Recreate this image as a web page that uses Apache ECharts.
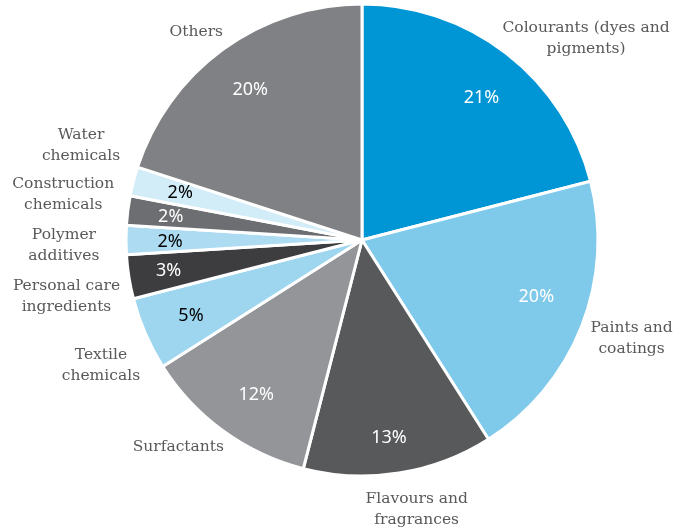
<!DOCTYPE html>
<html><head><meta charset="utf-8">
<script src="https://cdn.jsdelivr.net/npm/echarts@6/dist/echarts.min.js"></script>
<style>html,body{margin:0;padding:0;background:#fff}#c{width:691px;height:529px}</style>
</head><body><div id="c"></div>
<script>
const categories = ["Colourants (dyes and\npigments)", "Paints and\ncoatings", "Flavours and\nfragrances", "Surfactants", "Textile\nchemicals", "Personal care\ningredients", "Polymer\nadditives", "Construction\nchemicals", "Water\nchemicals", "Others"];
const values = [21, 20, 13, 12, 5, 3, 2, 2, 2, 20];
const colors = ["#0096D6", "#7FC9EA", "#58595B", "#939598", "#9ED6EF", "#3D3D3F", "#ADDCF2", "#6D6E71", "#D2ECF8", "#808184"];
const pctColors = ["#fff", "#fff", "#fff", "#fff", "#000", "#fff", "#000", "#fff", "#000", "#fff"];
// small label nudges (Excel best-fit placement)
const pctNudge = [[2, 9], [-4, -14], [-3, 8], [7, 0], [5, 0], [-4, 1], [0, 2], [-1, 1], [4, 1], [1, 5]];
const nameNudge = [[45, 29], [-2, -9], [9, -19], [-12, -29], [7, 9], [-7, 11], [-6, 5], [-9, -9], [2, -22], [6, 28]];

const R = 236, C = [362, 240];
const base = categories.map((c, i) => ({ name: c, value: values[i] }));

const chart = echarts.init(document.getElementById('c'));
chart.setOption({
  animation: false,
  series: [
    {
      type: 'pie', center: C, radius: [0, R], startAngle: 90, clockwise: true,
      avoidLabelOverlap: false, silent: true,
      label: { show: false }, labelLine: { show: false },
      data: base.map((d, i) => ({ ...d, itemStyle: { color: colors[i], borderColor: '#fff', borderWidth: 3 } }))
    },
    {
      type: 'pie', center: C, radius: [R * 0.6, R], startAngle: 90, clockwise: true,
      avoidLabelOverlap: false, silent: true,
      itemStyle: { color: 'transparent' },
      labelLine: { show: false },
      labelLayout: p => ({ dx: pctNudge[p.dataIndex][0], dy: pctNudge[p.dataIndex][1], hideOverlap: false }),
      data: base.map((d, i) => ({ ...d, label: { show: true, position: 'inside', color: pctColors[i], fontFamily: 'Noto Sans', fontSize: 18, formatter: values[i] + '%' } }))
    },
    {
      type: 'pie', center: C, radius: [R * 1.1, R * 1.35], startAngle: 90, clockwise: true,
      avoidLabelOverlap: false, silent: true,
      itemStyle: { color: 'transparent' },
      labelLine: { show: false },
      labelLayout: p => ({ dx: nameNudge[p.dataIndex][0], dy: nameNudge[p.dataIndex][1], hideOverlap: false }),
      label: { show: true, position: 'inside', color: '#595959', fontFamily: 'DejaVu Serif', fontSize: 15.5, lineHeight: 21, align: 'center', formatter: '{b}' },
      data: base
    }
  ]
});
</script></body></html>
